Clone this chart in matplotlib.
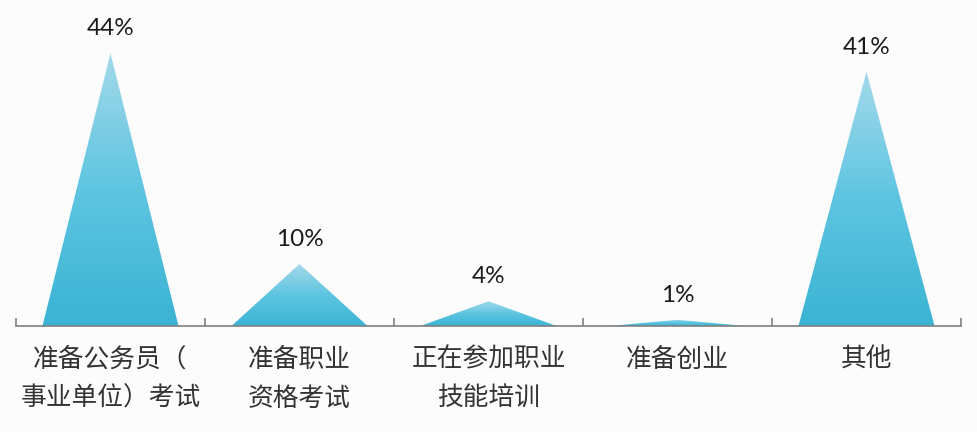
import numpy as np
import matplotlib
matplotlib.use("Agg")
import matplotlib.pyplot as plt
from matplotlib.patches import Polygon
from matplotlib.colors import LinearSegmentedColormap

plt.rcParams['font.family'] = ['Noto Sans CJK SC', 'DejaVu Sans']

categories = ["准备公务员（\n事业单位）考试", "准备职业\n资格考试", "正在参加职业\n技能培训", "准备创业", "其他"]
values = [44, 10, 4, 1, 41]
pct_labels = ["44%", "10%", "4%", "1%", "41%"]

bg = "#fcfcfd"
cmap = LinearSegmentedColormap.from_list("peak", ["#3ab3d3", "#5ec5e1", "#a3d9ea"])

fig = plt.figure(figsize=(9.78, 4.32), dpi=100, facecolor=bg)
ax = fig.add_axes([16 / 978, 106 / 432, 945 / 978, 310 / 432])
ax.set_facecolor(bg)

half = 0.36
x = np.arange(len(values))
for xi, v, lab in zip(x, values, pct_labels):
    tri = Polygon([(xi - half, 0), (xi, v), (xi + half, 0)], closed=True,
                  facecolor="none", edgecolor="none")
    ax.add_patch(tri)
    grad = np.linspace(0, 1, 256).reshape(-1, 1)
    im = ax.imshow(grad, cmap=cmap, origin="lower", aspect="auto",
                   extent=(xi - half, xi + half, 0, v), interpolation="bilinear")
    im.set_clip_path(tri)
    ax.annotate(lab, (xi, v), xytext=(0, 10), textcoords="offset points",
                ha="center", va="bottom", fontsize=17.5, color="#1a1a1a",
                family=["Lato", "DejaVu Sans"])

ax.set_xlim(-0.5, len(values) - 0.5)
ax.set_ylim(0, 50)

for s in ["top", "right", "left"]:
    ax.spines[s].set_visible(False)
ax.spines["bottom"].set_color("#808080")
ax.spines["bottom"].set_linewidth(1.2)
ax.set_yticks([])

ax.set_xticks(x)
ax.set_xticklabels(categories, fontsize=18.5, color="#333333", linespacing=1.65)
ax.tick_params(axis="x", which="major", length=0, pad=15)
ax.set_xticks(np.arange(-0.5, len(values), 1.0), minor=True)
ax.tick_params(axis="x", which="minor", direction="in", length=6, width=1.2, color="#808080")

fig.savefig("out.png", dpi=100, facecolor=bg)
